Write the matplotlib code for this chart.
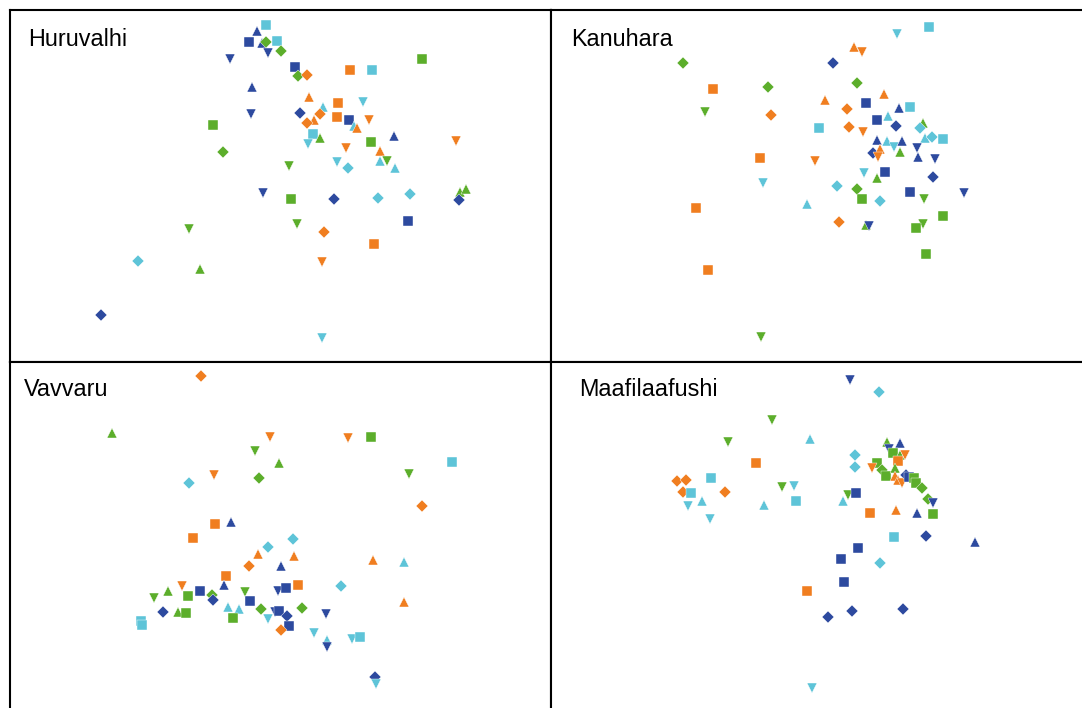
import matplotlib
matplotlib.use("Agg")
import matplotlib.pyplot as plt

# ordination scores per island (arbitrary units), group colour code and marker code
COLORS = {"B": "#2d4a9f", "C": "#5ec4d8", "G": "#5cae2b", "O": "#f07e20"}
SIZES = {"s": 6.9, "^": 7.6, "v": 7.6, "D": 6.1}

HURU_X = [256, 247, 239, 252, 256, 267, 258, 271, 220, 285, 288, 297, 340, 362, 412, 242,
          299, 313, 328, 353, 241, 290, 310, 304, 297, 327, 339, 344, 347, 359, 203, 303,
          310, 298, 384, 446, 361, 336, 370, 213, 370, 377, 327, 338, 385, 279, 253, 281,
          324, 368, 400, 450, 456, 449, 398, 179, 287, 314, 364, 128, 190, 312, 91, 312]
HURU_Y = [337, 331, 320, 319, 320, 321, 309, 311, 303, 295, 286, 287, 292, 292, 303, 275,
          265, 255, 259, 260, 248, 249, 248, 242, 239, 245, 242, 236, 234, 242, 237, 228,
          224, 218, 226, 221, 220, 214, 211, 210, 201, 201, 200, 194, 194, 196, 169, 163,
          163, 164, 168, 170, 173, 162, 141, 133, 138, 130, 118, 101, 93, 100, 47, 24]
HURU_GRP = list("CBBBGCBGBBGOOCGBOCOCBBOOOOBCOOGCGCBOGOOGCGCCCGBGBCCGGBBGGOOCGOBC")
HURU_SHP = ["s", "^", "s", "^", "D", "s", "v", "D", "v", "s", "D", "D", "s", "s", "s", "^",
            "^", "^", "s", "v", "v", "D", "D", "^", "D", "s", "s", "^", "^", "v", "s", "s",
            "^", "v", "^", "v", "s", "v", "^", "D", "^", "v", "v", "D", "^", "v", "v", "s",
            "D", "D", "D", "^", "^", "D", "s", "v", "v", "D", "s", "D", "^", "v", "D", "v"]

KANU_X = [346, 378, 303, 311, 282, 132, 162, 217, 306, 154, 220, 274, 333, 315, 296, 348,
          359, 337, 326, 345, 372, 369, 268, 298, 312, 326, 336, 343, 351, 374, 381, 392,
          349, 366, 367, 384, 322, 329, 327, 209, 264, 313, 334, 382, 326, 212, 286, 306,
          311, 329, 359, 373, 413, 145, 256, 392, 288, 315, 318, 372, 365, 375, 157, 210]
KANU_Y = [328, 335, 315, 310, 299, 299, 273, 275, 279, 250, 247, 262, 268, 259, 253, 254,
          255, 246, 242, 236, 239, 234, 234, 235, 230, 222, 221, 215, 221, 224, 225, 223,
          210, 214, 205, 203, 209, 213, 205, 204, 201, 189, 190, 185, 184, 179, 176, 173,
          163, 161, 170, 163, 169, 154, 158, 146, 140, 137, 136, 138, 134, 108, 92, 25]
KANU_GRP = list("CCOOBGOGGGOOOBOBCCBBGCCOOBCCBCCCGBBBBOOOOCBBGCCGGCBGBOCGOGBGGGOG")
KANU_SHP = ["v", "s", "^", "v", "D", "D", "s", "D", "D", "v", "D", "^", "^", "s", "D", "^",
            "s", "^", "s", "D", "^", "D", "s", "D", "v", "^", "^", "v", "^", "^", "D", "s",
            "^", "v", "^", "v", "D", "^", "v", "s", "v", "v", "s", "D", "^", "v", "D", "D",
            "s", "D", "s", "v", "v", "s", "^", "s", "D", "^", "v", "v", "s", "s", "s", "v"]

VAVV_X = [191, 102, 260, 338, 361, 245, 269, 442, 179, 204, 249, 399, 412, 205, 221, 183,
          258, 283, 248, 284, 239, 271, 363, 394, 216, 172, 158, 144, 190, 178, 214, 202,
          203, 235, 268, 276, 288, 331, 394, 153, 168, 176, 218, 229, 240, 251, 265, 269,
          292, 277, 258, 223, 316, 279, 271, 131, 132, 304, 317, 317, 342, 350, 365, 366]
VAVV_Y = [332, 275, 271, 270, 271, 257, 245, 246, 225, 233, 230, 234, 202, 184, 186, 170,
          161, 169, 154, 152, 142, 142, 148, 146, 132, 122, 117, 110, 117, 112, 123, 113,
          108, 116, 117, 120, 123, 122, 106, 96, 96, 95, 101, 99, 107, 99, 96, 97,
          100, 92, 89, 90, 94, 82, 78, 87, 83, 75, 68, 61, 69, 71, 31, 24]
VAVV_GRP = list("OGOOGGGCCOGGOOBOCCOOOBOCOOGGBGBGBGBBOCOBGGCCBGBBGBCGBBOCCCCBCCBC")
VAVV_SHP = ["D", "^", "v", "v", "s", "v", "^", "s", "D", "v", "D", "v", "D", "s", "^", "s",
            "D", "D", "^", "^", "D", "^", "^", "^", "s", "v", "^", "v", "s", "s", "^", "D",
            "D", "v", "v", "s", "s", "D", "^", "D", "^", "s", "^", "^", "s", "D", "v", "s",
            "D", "D", "v", "s", "v", "s", "D", "s", "s", "v", "^", "v", "v", "s", "D", "v"]

MAAF_X = [299, 328, 221, 177, 259, 205, 304, 304, 126, 135, 132, 160, 140, 174, 137, 151,
          159, 231, 243, 245, 213, 297, 305, 292, 319, 345, 366, 382, 336, 349, 338, 342,
          349, 354, 347, 326, 321, 331, 335, 344, 344, 347, 351, 355, 358, 363, 365, 371,
          377, 382, 343, 375, 424, 307, 290, 329, 293, 256, 277, 301, 352, 261]
MAAF_Y = [328, 316, 288, 266, 269, 245, 253, 241, 227, 228, 216, 230, 215, 216, 202, 207,
          189, 221, 222, 207, 203, 213, 215, 207, 195, 198, 195, 194, 266, 265, 259, 255,
          253, 253, 247, 245, 240, 238, 232, 240, 232, 228, 225, 233, 231, 230, 225, 220,
          209, 205, 171, 172, 166, 160, 149, 145, 126, 117, 91, 97, 99, 20]
MAAF_GRP = list("BCGGCOCCOOOCCOCCCGCCCGBCOOBGGBBGGOOGOGGGOOOBBGGGGBCBBBBCBOBBBC")
MAAF_SHP = ["v", "D", "v", "v", "^", "s", "D", "D", "D", "D", "D", "s", "s", "D", "v", "^",
            "v", "v", "v", "s", "^", "v", "s", "^", "s", "^", "^", "s", "^", "^", "v", "s",
            "^", "v", "s", "s", "v", "D", "s", "^", "^", "^", "v", "D", "s", "s", "s", "D",
            "D", "v", "s", "D", "^", "s", "s", "D", "s", "s", "D", "D", "D", "v"]

W, H = 1082, 708
fig = plt.figure(figsize=(W / 100, H / 100), dpi=100)
plt.rcParams["font.family"] = ["Liberation Sans", "DejaVu Sans"]

# name, data, axes box in pixels, title offset, spines to hide at the outer edge
panels = [
    ("Huruvalhi", HURU_X, HURU_Y, HURU_GRP, HURU_SHP, (10, 346, 541, 352), (18, 30), []),
    ("Kanuhara", KANU_X, KANU_Y, KANU_GRP, KANU_SHP, (551, 346, 531, 352), (20, 30), ["right"]),
    ("Vavvaru", VAVV_X, VAVV_Y, VAVV_GRP, VAVV_SHP, (10, 0, 541, 346), (14, 28), ["bottom"]),
    ("Maafilaafushi", MAAF_X, MAAF_Y, MAAF_GRP, MAAF_SHP, (551, 0, 531, 346), (28, 28),
     ["right", "bottom"]),
]

for name, xs, ys, grp, shp, (l, b, w, h), (tx, ty), hidden in panels:
    ax = fig.add_axes([l / W, b / H, w / W, h / H])
    for x, y, g, m in zip(xs, ys, grp, shp):
        ax.plot(x, y, linestyle="none", marker=m, ms=SIZES[m], color=COLORS[g],
                mec="white", mew=0.3)
    ax.set_xlim(0, w)
    ax.set_ylim(0, h)
    ax.set_xticks([]); ax.set_yticks([])
    for key, sp in ax.spines.items():
        sp.set_linewidth(1.5); sp.set_color("black")
        sp.set_visible(key not in hidden)
    ax.annotate(name, xy=(0, 1), xycoords="axes fraction", xytext=(tx, -ty),
                textcoords="offset pixels", ha="left", va="center", fontsize=16.8)

fig.savefig("out.png", dpi=100)
